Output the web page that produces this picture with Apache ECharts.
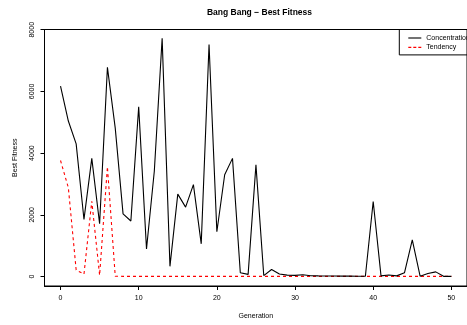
<!DOCTYPE html>
<html>
<head>
<meta charset="utf-8">
<script src="https://cdn.jsdelivr.net/npm/echarts@6/dist/echarts.min.js"></script>
<style>html,body{margin:0;padding:0;background:#fff;}#c{width:467px;height:325px;}</style>
</head>
<body>
<div id="c"></div>
<script>
const generations = [0,1,2,3,4,5,6,7,8,9,10,11,12,13,14,15,16,17,18,19,20,21,22,23,24,25,26,27,28,29,30,31,32,33,34,35,36,37,38,39,40,41,42,43,44,45,46,47,48,49,50];
const concentration = [6170,5040,4300,1850,3830,1710,6780,4810,2030,1800,5500,890,3420,7720,330,2670,2250,2980,1060,7520,1450,3300,3830,120,70,3620,30,225,80,45,35,55,25,20,18,15,12,12,10,8,2430,20,50,20,120,1190,10,100,150,5,5];
const tendency = [3760,2880,210,75,2440,40,3560,10,5,5,5,5,5,5,5,5,5,5,5,5,5,5,5,5,5,5,5,5,5,5,5,5,5,5,5,5,5,5,5,5,5,5,5,5,5,5,5,5,5,5,5];
const xTicks = [0,10,20,30,40,50];
const yTicks = [0,2000,4000,6000,8000];
const seriesNames = ['Concentration','Tendency'];

const FONT = "'Liberation Sans', Arial, Helvetica, sans-serif";
const RED = '#ff0000';
const chart = echarts.init(document.getElementById('c'), null, {renderer:'canvas'});
const pair = (ys) => generations.map((g,i) => [g, ys[i]]);
chart.setOption({
  animation:false,
  backgroundColor:'#fff',
  title:{
    text:'Bang Bang \u2212 Best Fitness',
    left:259.5, top:7, padding:0, textAlign:'center',
    textStyle:{fontFamily:FONT, fontSize:8.5, fontWeight:'bold', color:'#000', lineHeight:11}
  },
  legend:{
    orient:'vertical', left:399.3, top:29.5,
    padding:[5,30,4,9],
    borderColor:'#000', borderWidth:1,
    itemWidth:13, itemHeight:7, itemGap:2.4,
    symbolKeepAspect:true,
    textStyle:{fontFamily:FONT, fontSize:7, color:'#000', padding:[0,0,0,0]},
    data:[
      {name:seriesNames[0], icon:'path://M0,0h13v1.1h-13z', itemStyle:{color:'#000', borderWidth:0}},
      {name:seriesNames[1], icon:'path://M0,0h3v1.1h-3zM5,0h3v1.1h-3zM10,0h3v1.1h-3z', itemStyle:{color:RED, borderWidth:0}}
    ]
  },
  grid:{left:44.5, top:29.5, width:430, height:261, show:true, borderColor:'#000', borderWidth:1, containLabel:false},
  xAxis:{
    type:'value', min:-2.05, max:52,
    name:'Generation', nameLocation:'middle', nameGap:27,
    nameTextStyle:{fontFamily:FONT, fontSize:7, color:'#000'},
    axisLine:{show:true, onZero:false, lineStyle:{color:'#000', width:1}},
    axisTick:{show:true, length:4, lineStyle:{color:'#000'}, customValues:xTicks},
    axisLabel:{fontFamily:FONT, fontSize:7, color:'#000', margin:9, customValues:xTicks, formatter:(v)=>String(v)},
    splitLine:{show:false}
  },
  yAxis:{
    type:'value', min:-308, max:8008,
    name:'Best Fitness', nameLocation:'middle', nameGap:26, nameRotate:90,
    nameTextStyle:{fontFamily:FONT, fontSize:7, color:'#000'},
    axisLine:{show:true, onZero:false, lineStyle:{color:'#000', width:1}},
    axisTick:{show:true, length:4, lineStyle:{color:'#000'}, customValues:yTicks},
    axisLabel:{fontFamily:FONT, fontSize:7, color:'#000', margin:9, rotate:90, customValues:yTicks, formatter:(v)=>String(v)},
    splitLine:{show:false}
  },
  series:[
    {name:seriesNames[0], type:'line', data:pair(concentration), symbol:'none', lineStyle:{color:'#000', width:1.1}, itemStyle:{color:'#000'}, z:3},
    {name:seriesNames[1], type:'line', data:pair(tendency), symbol:'none', lineStyle:{color:RED, width:1.1, type:[3,3]}, itemStyle:{color:RED}, z:2}
  ]
});
</script>
</body>
</html>
